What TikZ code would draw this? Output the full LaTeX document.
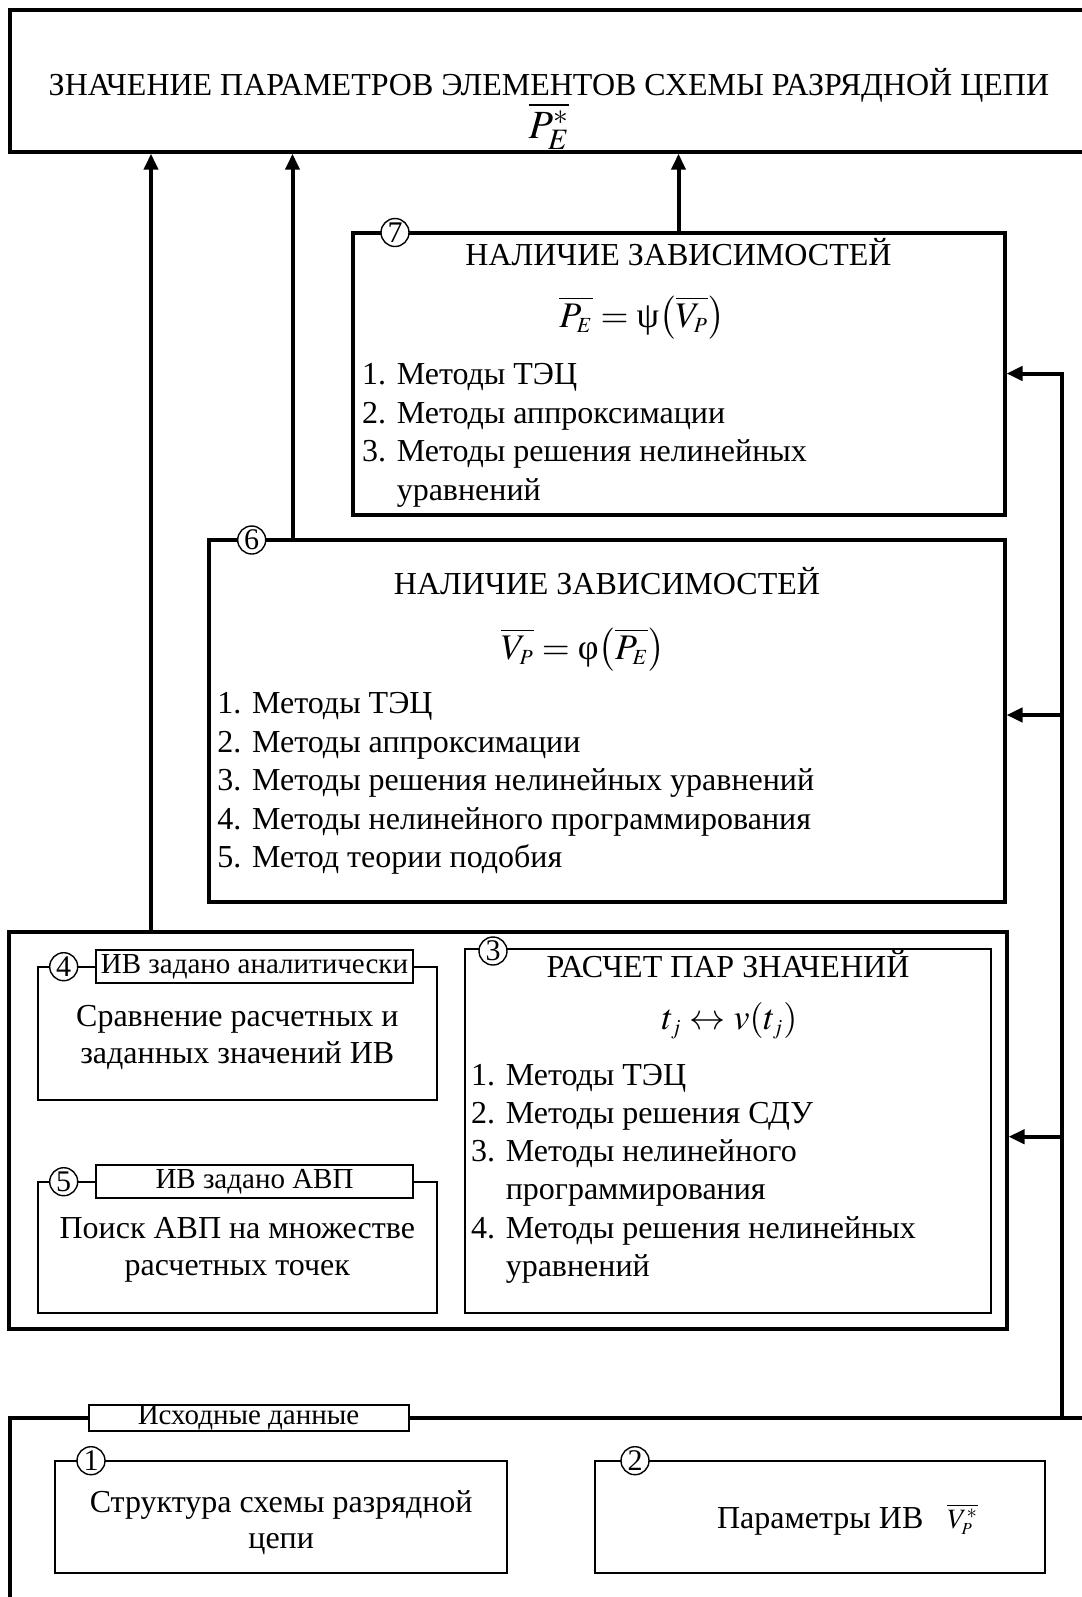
\documentclass[tikz,border=0pt]{standalone}
\usepackage{mathptmx}
\usepackage{fontspec}
\setmainfont{Liberation Serif}
\usetikzlibrary{arrows.meta,calc,fit}

\tikzset{
   bigbox/.style={draw,line width=2pt,inner sep=0pt},
   smallbox/.style={draw,line width=1pt,inner sep=0pt},
   tagbox/.style={draw,line width=1pt,fill=white,inner sep=0pt,font=\fontsize{14.5}{17}\selectfont},
   numcirc/.style={circle,draw,line width=0.7pt,fill=white,inner sep=0pt,minimum size=14pt,font=\fontsize{15}{15}\selectfont},
   txt/.style={inner sep=0pt,anchor=base},
   item/.style={inner sep=0pt,anchor=base west},
   arr/.style={line width=2pt,->},
}

\begin{document}
\begin{tikzpicture}[x=0.5pt,y=-0.5pt,font=\fontsize{16}{19}\selectfont,>={Triangle[length=8pt,width=7pt]}]
   % Visible part of the scheme
   \useasboundingbox (0,0) rectangle (1082,1597);
   \clip (0,0) rectangle (1082,1597);
   \def\STEP{38.5}
   \def\FORM{\fontsize{18}{21}\selectfont}
   % Result (cut off at the right)
   \node [bigbox,fit={(10.4,10) (1120,151.7)}] (res) {};
   \node [txt] (restitle) at (549,95) {ЗНАЧЕНИЕ ПАРАМЕТРОВ ЭЛЕМЕНТОВ СХЕМЫ РАЗРЯДНОЙ ЦЕПИ};
   \node [txt] (resval) at (549,138) {\fontsize{20}{24}\selectfont$\overline{P_{E}^{*}}$};
   % Block 7
   \node [bigbox,fit={(352.5,232.5) (1004.5,515)}] (b7) {};
   \node [txt] (t7) at (678.5,265.5) {НАЛИЧИЕ ЗАВИСИМОСТЕЙ};
   \node [txt] (f7) at (642,327) {\FORM$\overline{P_{\scriptscriptstyle E}}=\mbox{ψ}\!\left(\overline{V_{\scriptscriptstyle P}}\right)$};
   \foreach \txt [count=\i from 0] in {{1. Методы ТЭЦ},{2. Методы аппроксимации},
         {3. Методы решения нелинейных},{\phantom{3. }уравнений}}
      \node [item] (m7-\i) at (361.7,{384.8+\STEP*\i}) {\txt};
   \node [numcirc] (n7) at (395,232.5) {7};
   % Block 6
   \node [bigbox,fit={(209.3,540) (1004.5,901.6)}] (b6) {};
   \node [txt] (t6) at (607,594) {НАЛИЧИЕ ЗАВИСИМОСТЕЙ};
   \node [txt] (f6) at (583,659) {\FORM$\overline{V_{\scriptscriptstyle P}}=\mbox{φ}\!\left(\overline{P_{\scriptscriptstyle E}}\right)$};
   \foreach \txt [count=\i from 0] in {{1. Методы ТЭЦ},{2. Методы аппроксимации},
         {3. Методы решения нелинейных уравнений},{4. Методы нелинейного программирования},
         {5. Метод теории подобия}}
      \node [item] (m6-\i) at (217,{713.8+\STEP*\i}) {\txt};
   \node [numcirc] (n6) at (251.7,540) {6};
   % Calculation block
   \node [bigbox,fit={(8.6,931.7) (1006.5,1328.5)}] (calc) {};
   % Block 4
   \node [smallbox,fit={(37.9,966.7) (436.6,1100)}] (b4) {};
   \node [tagbox,minimum width=158.8pt,minimum height=16.7pt] (tag4) at (254.5,966.7) {ИВ задано аналитически};
   \node [numcirc] (n4) at (63.7,966.7) {4};
   \node [txt] (s4a) at (237.3,1026.5) {Сравнение расчетных и};
   \node [txt] (s4b) at (237.3,1063) {заданных значений ИВ};
   % Block 5
   \node [smallbox,fit={(37.9,1181.7) (436.6,1313.3)}] (b5) {};
   \node [tagbox,minimum width=158.8pt,minimum height=16.7pt] (tag5) at (254.5,1181.7) {ИВ задано АВП};
   \node [numcirc] (n5) at (63.7,1181.7) {5};
   \node [txt] (s5a) at (237.3,1238.3) {Поиск АВП на множестве};
   \node [txt] (s5b) at (237.3,1275) {расчетных точек};
   % Block 3
   \node [smallbox,fit={(465,949.3) (990.8,1313.3)}] (b3) {};
   \node [txt] (t3) at (728,977.5) {РАСЧЕТ ПАР ЗНАЧЕНИЙ};
   \node [txt] (f3) at (729.5,1029) {\FORM$t_{\scriptscriptstyle j}\leftrightarrow v\!\left(t_{\scriptscriptstyle j}\right)$};
   \foreach \txt [count=\i from 0] in {{1. Методы ТЭЦ},{2. Методы решения СДУ},
         {3. Методы нелинейного},{\phantom{3. }программирования},
         {4. Методы решения нелинейных},{\phantom{4. }уравнений}}
      \node [item] (m3-\i) at (470.7,{1085+38.3*\i}) {\txt};
   \node [numcirc] (n3) at (493,951) {3};
   % Source data (cut off at the right and bottom)
   \node [bigbox,fit={(10.4,1418) (1120,1650)}] (src) {};
   \node [tagbox,minimum width=160pt,minimum height=12.7pt] (tagsrc) at (248.5,1418) {Исходные данные};
   % Block 1
   \node [smallbox,fit={(55.2,1460.7) (507.2,1573.3)}] (b1) {};
   \node [numcirc] (n1) at (91,1460.7) {1};
   \node [txt] (s1a) at (281.2,1512) {Структура схемы разрядной};
   \node [txt] (s1b) at (281.2,1548) {цепи};
   % Block 2
   \node [smallbox,fit={(595,1460.7) (1045,1573.3)}] (b2) {};
   \node [numcirc] (n2) at (635,1460.7) {2};
   \node [item] (s2) at (716.7,1528.3) {Параметры ИВ\hspace{12pt}{\fontsize{14}{16}\selectfont$\overline{V_{\scriptscriptstyle P}^{*}}$}};
   % Arrows to the result
   \draw [arr] ($(calc.north west)+(144.4,0)$) coordinate (u1) -- (u1 |- res.south);
   \draw [arr] ($(b6.north west)+(85.2,0)$) coordinate (u2) -- (u2 |- res.south);
   \draw [arr] (b7.north) -- (b7.north |- res.south);
   % Feedback from the source data
   \coordinate (fb7) at (1062,373.5);
   \coordinate (fb6) at (1062,715);
   \coordinate (fb3) at (1062,1136.7);
   \draw [arr] (fb7 |- src.north) -- (fb7) -- (fb7 -| b7.east);
   \draw [arr] (fb6) -- (fb6 -| b6.east);
   \draw [arr] (fb3) -- (fb3 -| calc.east);
\end{tikzpicture}
\end{document}
